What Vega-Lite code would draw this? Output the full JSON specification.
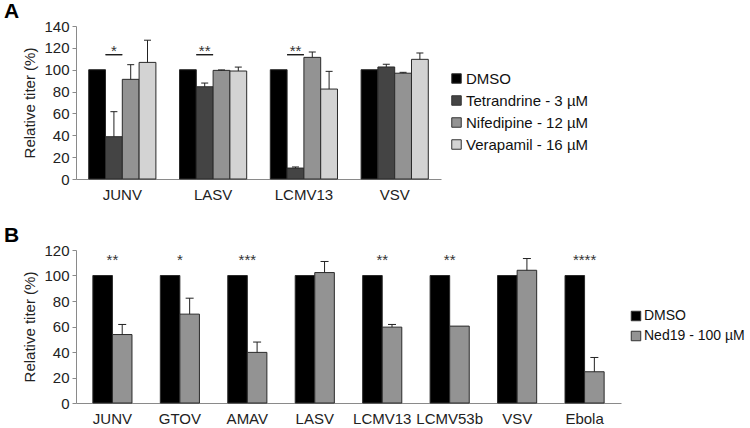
{
  "$schema": "https://vega.github.io/schema/vega-lite/v6.json",
  "background": "white",
  "padding": {"left": 3, "top": 1, "right": 5, "bottom": 2},
  "config": {
    "font": "Liberation Sans",
    "view": {"stroke": null},
    "title": {"fontSize": 21, "fontWeight": "bold", "anchor": "start", "frame": "bounds", "color": "#000", "offset": -3},
    "axis": {"labelFont": "Liberation Sans", "titleFont": "Liberation Sans", "labelFontSize": 15, "titleFontSize": 15, "titleFontWeight": "normal", "labelColor": "#222", "titleColor": "#222", "domainColor": "#8a8a8a", "tickColor": "#8a8a8a", "grid": false, "labelOverlap": false},
    "legend": {"labelFont": "Liberation Sans", "labelFontSize": 15, "labelColor": "#111", "symbolType": "square", "symbolSize": 90, "symbolStrokeColor": "#333", "symbolStrokeWidth": 1, "rowPadding": 6, "labelOffset": 2, "padding": 0, "title": null}
  },
  "datasets": {
    "a": [
      {"virus": "JUNV", "drug": "DMSO", "value": 100, "hi": null},
      {"virus": "JUNV", "drug": "Tetrandrine - 3 µM", "value": 38.7, "hi": 61.6},
      {"virus": "JUNV", "drug": "Nifedipine - 12 µM", "value": 91.2, "hi": 104.6},
      {"virus": "JUNV", "drug": "Verapamil - 16 µM", "value": 106.7, "hi": 127},
      {"virus": "LASV", "drug": "DMSO", "value": 100, "hi": null},
      {"virus": "LASV", "drug": "Tetrandrine - 3 µM", "value": 84.4, "hi": 87.8},
      {"virus": "LASV", "drug": "Nifedipine - 12 µM", "value": 99.4, "hi": 99.8},
      {"virus": "LASV", "drug": "Verapamil - 16 µM", "value": 98.8, "hi": 102.4},
      {"virus": "LCMV13", "drug": "DMSO", "value": 100, "hi": null},
      {"virus": "LCMV13", "drug": "Tetrandrine - 3 µM", "value": 10, "hi": 11},
      {"virus": "LCMV13", "drug": "Nifedipine - 12 µM", "value": 111.3, "hi": 116.2},
      {"virus": "LCMV13", "drug": "Verapamil - 16 µM", "value": 82.3, "hi": 98.5},
      {"virus": "VSV", "drug": "DMSO", "value": 100, "hi": null},
      {"virus": "VSV", "drug": "Tetrandrine - 3 µM", "value": 102.5, "hi": 105},
      {"virus": "VSV", "drug": "Nifedipine - 12 µM", "value": 96.8, "hi": 97.6},
      {"virus": "VSV", "drug": "Verapamil - 16 µM", "value": 109.5, "hi": 115.3}
    ],
    "asig": [
      {"virus": "JUNV", "drug": "Tetrandrine - 3 µM", "y": 113.7, "label": "*"},
      {"virus": "LASV", "drug": "Tetrandrine - 3 µM", "y": 113.7, "label": "**"},
      {"virus": "LCMV13", "drug": "Tetrandrine - 3 µM", "y": 113.7, "label": "**"}
    ],
    "b": [
      {"virus": "JUNV", "drug": "DMSO", "value": 100, "hi": null},
      {"virus": "JUNV", "drug": "Ned19 - 100 µM", "value": 53.7, "hi": 61.6},
      {"virus": "GTOV", "drug": "DMSO", "value": 100, "hi": null},
      {"virus": "GTOV", "drug": "Ned19 - 100 µM", "value": 69.7, "hi": 82.2},
      {"virus": "AMAV", "drug": "DMSO", "value": 100, "hi": null},
      {"virus": "AMAV", "drug": "Ned19 - 100 µM", "value": 39.7, "hi": 47.8},
      {"virus": "LASV", "drug": "DMSO", "value": 100, "hi": null},
      {"virus": "LASV", "drug": "Ned19 - 100 µM", "value": 102.3, "hi": 111},
      {"virus": "LCMV13", "drug": "DMSO", "value": 100, "hi": null},
      {"virus": "LCMV13", "drug": "Ned19 - 100 µM", "value": 59.5, "hi": 61.6},
      {"virus": "LCMV53b", "drug": "DMSO", "value": 100, "hi": null},
      {"virus": "LCMV53b", "drug": "Ned19 - 100 µM", "value": 60.3, "hi": null},
      {"virus": "VSV", "drug": "DMSO", "value": 100, "hi": null},
      {"virus": "VSV", "drug": "Ned19 - 100 µM", "value": 104.1, "hi": 113.3},
      {"virus": "Ebola", "drug": "DMSO", "value": 100, "hi": null},
      {"virus": "Ebola", "drug": "Ned19 - 100 µM", "value": 24.5, "hi": 35.7}
    ],
    "bsig": [
      {"virus": "JUNV", "y": 110, "label": "**"},
      {"virus": "GTOV", "y": 110, "label": "*"},
      {"virus": "AMAV", "y": 110, "label": "***"},
      {"virus": "LCMV13", "y": 110, "label": "**"},
      {"virus": "LCMV53b", "y": 110, "label": "**"},
      {"virus": "Ebola", "y": 110, "label": "****"}
    ]
  },
  "vconcat": [
    {
      "title": {"text": "A", "dx": -19},
      "width": 365,
      "height": 153,
      "encoding": {
        "x": {"field": "virus", "type": "nominal", "sort": ["JUNV", "LASV", "LCMV13", "VSV"],
              "scale": {"paddingInner": 0.26, "paddingOuter": 0.14},
              "axis": {"title": null, "labelAngle": 0, "ticks": false, "labelPadding": 8}},
        "xOffset": {"field": "drug", "type": "nominal",
                    "sort": ["DMSO", "Tetrandrine - 3 µM", "Nifedipine - 12 µM", "Verapamil - 16 µM"],
                    "scale": {"paddingInner": 0, "paddingOuter": 0}}
      },
      "layer": [
        {
          "data": {"name": "a"},
          "mark": {"type": "bar", "stroke": "#2a2a2a", "strokeWidth": 1},
          "encoding": {
            "y": {"field": "value", "type": "quantitative",
                  "scale": {"domain": [0, 140], "nice": false},
                  "axis": {"title": "Relative titer (%)", "values": [0, 20, 40, 60, 80, 100, 120, 140], "tickSize": 4, "labelPadding": 3, "titlePadding": 6}},
            "color": {"field": "drug", "type": "nominal",
                      "sort": ["DMSO", "Tetrandrine - 3 µM", "Nifedipine - 12 µM", "Verapamil - 16 µM"],
                      "scale": {"domain": ["DMSO", "Tetrandrine - 3 µM", "Nifedipine - 12 µM", "Verapamil - 16 µM"], "range": ["#000000", "#444444", "#939393", "#d3d3d3"]},
                      "legend": {"orient": "none", "legendX": 373, "legendY": 45}}
          }
        },
        {
          "data": {"name": "a"},
          "transform": [{"filter": "datum.hi != null"}],
          "mark": {"type": "rule", "color": "#222", "strokeWidth": 1},
          "encoding": {
            "y": {"field": "value", "type": "quantitative", "axis": {"title": "Relative titer (%)", "values": [0, 20, 40, 60, 80, 100, 120, 140], "tickSize": 4, "labelPadding": 3, "titlePadding": 6}},
            "y2": {"field": "hi"}
          }
        },
        {
          "data": {"name": "a"},
          "transform": [{"filter": "datum.hi != null"}],
          "mark": {"type": "point", "shape": "M-1,0H1", "size": 49, "color": "#222", "strokeWidth": 1, "opacity": 1},
          "encoding": {
            "y": {"field": "hi", "type": "quantitative", "axis": {"title": "Relative titer (%)", "values": [0, 20, 40, 60, 80, 100, 120, 140], "tickSize": 4, "labelPadding": 3, "titlePadding": 6}}
          }
        },
        {
          "data": {"name": "asig"},
          "mark": {"type": "bar", "xOffset": -8.5, "stroke": "#111", "strokeWidth": 1, "fill": "#111"},
          "encoding": {
            "y": {"field": "y", "type": "quantitative", "axis": {"title": "Relative titer (%)", "values": [0, 20, 40, 60, 80, 100, 120, 140], "tickSize": 4, "labelPadding": 3, "titlePadding": 6}},
            "y2": {"field": "y"}
          }
        },
        {
          "data": {"name": "asig"},
          "mark": {"type": "text", "xOffset": -8.5, "fontSize": 15, "color": "#333", "baseline": "alphabetic", "dy": 1},
          "encoding": {
            "y": {"field": "y", "type": "quantitative", "axis": {"title": "Relative titer (%)", "values": [0, 20, 40, 60, 80, 100, 120, 140], "tickSize": 4, "labelPadding": 3, "titlePadding": 6}},
            "text": {"field": "label"}
          }
        }
      ]
    },
    {
      "title": {"text": "B", "dx": -19},
      "width": 545,
      "height": 153,
      "encoding": {
        "x": {"field": "virus", "type": "nominal", "sort": ["JUNV", "GTOV", "AMAV", "LASV", "LCMV13", "LCMV53b", "VSV", "Ebola"],
              "scale": {"paddingInner": 0.42, "paddingOuter": 0.25},
              "axis": {"title": null, "labelAngle": 0, "ticks": false, "labelPadding": 8}}
      },
      "layer": [
        {
          "data": {"name": "b"},
          "mark": {"type": "bar", "stroke": "#2a2a2a", "strokeWidth": 1},
          "encoding": {
            "xOffset": {"field": "drug", "type": "nominal", "sort": ["DMSO", "Ned19 - 100 µM"], "scale": {"paddingInner": 0, "paddingOuter": 0}},
            "y": {"field": "value", "type": "quantitative",
                  "scale": {"domain": [0, 120], "nice": false},
                  "axis": {"title": "Relative titer (%)", "values": [0, 20, 40, 60, 80, 100, 120], "tickSize": 4, "labelPadding": 3, "titlePadding": 6}},
            "color": {"field": "drug", "type": "nominal",
                      "scale": {"domain": ["DMSO", "Ned19 - 100 µM"], "range": ["#000000", "#939393"]},
                      "legend": {"orient": "none", "legendX": 553, "legendY": 59, "labelFontSize": 14, "labelOffset": 1}}
          }
        },
        {
          "data": {"name": "b"},
          "transform": [{"filter": "datum.hi != null"}],
          "mark": {"type": "rule", "color": "#222", "strokeWidth": 1},
          "encoding": {
            "xOffset": {"field": "drug", "type": "nominal", "sort": ["DMSO", "Ned19 - 100 µM"]},
            "y": {"field": "value", "type": "quantitative", "axis": {"title": "Relative titer (%)", "values": [0, 20, 40, 60, 80, 100, 120], "tickSize": 4, "labelPadding": 3, "titlePadding": 6}},
            "y2": {"field": "hi"}
          }
        },
        {
          "data": {"name": "b"},
          "transform": [{"filter": "datum.hi != null"}],
          "mark": {"type": "point", "shape": "M-1,0H1", "size": 64, "color": "#222", "strokeWidth": 1, "opacity": 1},
          "encoding": {
            "xOffset": {"field": "drug", "type": "nominal", "sort": ["DMSO", "Ned19 - 100 µM"]},
            "y": {"field": "hi", "type": "quantitative", "axis": {"title": "Relative titer (%)", "values": [0, 20, 40, 60, 80, 100, 120], "tickSize": 4, "labelPadding": 3, "titlePadding": 6}}
          }
        },
        {
          "data": {"name": "bsig"},
          "mark": {"type": "text", "fontSize": 15, "color": "#333", "baseline": "alphabetic", "dy": 2},
          "encoding": {
            "y": {"field": "y", "type": "quantitative", "axis": {"title": "Relative titer (%)", "values": [0, 20, 40, 60, 80, 100, 120], "tickSize": 4, "labelPadding": 3, "titlePadding": 6}},
            "text": {"field": "label"}
          }
        }
      ]
    }
  ],
  "resolve": {"scale": {"color": "independent", "x": "independent", "y": "independent", "xOffset": "independent"}, "legend": {"color": "independent"}},
  "spacing": 23
}
